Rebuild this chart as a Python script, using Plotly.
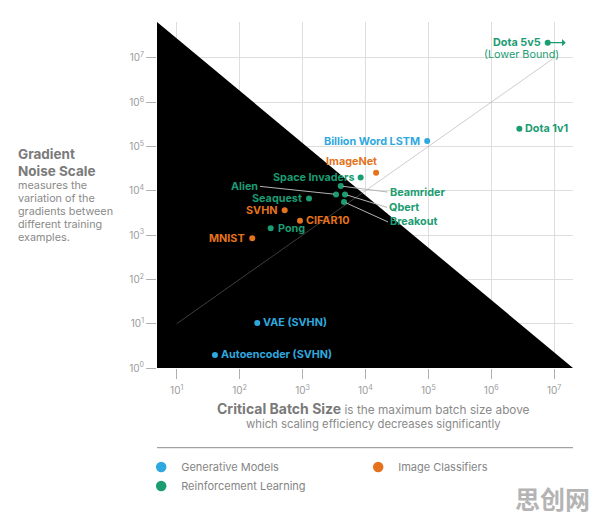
import math
import plotly.graph_objects as go

# ---------------- data ----------------
names = ["Dota 5v5", "Dota 1v1", "Billion Word LSTM", "ImageNet", "Space Invaders",
         "Beamrider", "Alien", "Qbert", "Breakout", "Seaquest", "SVHN", "CIFAR10",
         "Pong", "MNIST", "VAE (SVHN)", "Autoencoder (SVHN)"]
batch_size = [7.9e6, 2.8e6, 9.6e4, 1.48e4, 8.4e3,
              4.05e3, 3.41e3, 4.74e3, 4.57e3, 1.27e3, 521, 912,
              312, 159, 191, 40.6]
noise_scale = [2.2e7, 2.5e5, 1.33e5, 2.57e4, 1.99e4,
               1.28e4, 8.3e3, 8.3e3, 5.6e3, 6.7e3, 3.63e3, 2.12e3,
               1.43e3, 847, 10.4, 1.97]
category = ["Reinforcement Learning", "Reinforcement Learning", "Generative Models",
            "Image Classifiers", "Reinforcement Learning", "Reinforcement Learning",
            "Reinforcement Learning", "Reinforcement Learning", "Reinforcement Learning",
            "Reinforcement Learning", "Image Classifiers", "Image Classifiers",
            "Reinforcement Learning", "Image Classifiers", "Generative Models",
            "Generative Models"]
categories = ["Generative Models", "Image Classifiers", "Reinforcement Learning"]
ref_line = [1e1, 1e7]          # y = x reference line
x_ticks = [1e1, 1e2, 1e3, 1e4, 1e5, 1e6, 1e7]
x_ticktext = ["10<sup>%d</sup>" % i for i in range(1, 8)]
y_ticks = [1e0, 1e1, 1e2, 1e3, 1e4, 1e5, 1e6, 1e7]
y_ticktext = ["10<sup>%d</sup>" % i for i in range(0, 8)]
desc_lines = ["measures the", "variation of the", "gradients between",
              "different training", "examples."]

# axis ranges (log10 units)
X_RANGE = [0.687, 7.30]
Y_RANGE = [0.0, 7.81]

# ---------------- styles ----------------
colors = {"Generative Models": "#2fa8df",
          "Image Classifiers": "#e5731d",
          "Reinforcement Learning": "#1b9c72"}
FONT = "Inter, Roboto, sans-serif"
LBL = 10.8

place = {
    "Dota 5v5": ("right", -5, 0),
    "Dota 1v1": ("left", 4, 0),
    "Billion Word LSTM": ("right", -5, 0),
    "ImageNet": ("center", -25, 11),
    "Space Invaders": ("right", -5, 0),
    "Seaquest": ("right", -5, 0),
    "SVHN": ("right", -6, 0),
    "CIFAR10": ("left", 4, 0),
    "Pong": ("left", 5, 0),
    "MNIST": ("right", -5, 0),
    "VAE (SVHN)": ("left", 4, 0),
    "Autoencoder (SVHN)": ("left", 4, 0),
}
leaders = {
    "Alien": ("right", -76, -8),
    "Beamrider": ("left", 47, 6),
    "Qbert": ("left", 42, 13),
    "Breakout": ("left", 44, 20),
}

fig = go.Figure()

x_lo, x_hi = 10 ** X_RANGE[0], 10 ** X_RANGE[1]
y_lo, y_hi = 10 ** Y_RANGE[0], 10 ** Y_RANGE[1]
fig.add_trace(go.Scatter(x=[x_lo, x_lo, x_hi, x_lo], y=[y_lo, y_hi, y_lo, y_lo],
                         mode="lines", fill="toself", fillcolor="black",
                         line=dict(width=0, color="black"),
                         hoverinfo="skip", showlegend=False))

fig.add_trace(go.Scatter(x=ref_line, y=ref_line, mode="lines",
                         line=dict(color="rgba(140,140,140,0.55)", width=0.8),
                         hoverinfo="skip", showlegend=False))

for cat in categories:
    idx = [i for i, c in enumerate(category) if c == cat]
    fig.add_trace(go.Scatter(
        x=[batch_size[i] for i in idx], y=[noise_scale[i] for i in idx],
        mode="markers", marker=dict(color=colors[cat], size=6),
        text=[names[i] for i in idx], showlegend=False, name=cat))
for cat in categories:
    fig.add_trace(go.Scatter(x=[None], y=[None], mode="markers", name=cat,
                             marker=dict(color=colors[cat], size=10.5)))

annotations = []
for i, n in enumerate(names):
    col = colors[category[i]]
    lx, ly = math.log10(batch_size[i]), math.log10(noise_scale[i])
    if n in place:
        xa, xs, ys = place[n]
        annotations.append(dict(x=lx, y=ly, xref="x", yref="y", text="<b>%s</b>" % n,
                                showarrow=False, xanchor=xa, yanchor="middle",
                                xshift=xs, yshift=ys,
                                font=dict(family=FONT, size=LBL, color=col)))
    elif n in leaders:
        xa, ax, ay = leaders[n]
        annotations.append(dict(x=lx, y=ly, xref="x", yref="y", text="<b>%s</b>" % n,
                                showarrow=True, arrowhead=0, arrowwidth=1,
                                arrowcolor="#b5b5b5", ax=ax, ay=ay, xanchor=xa,
                                yanchor="middle", standoff=2,
                                font=dict(family=FONT, size=LBL, color=col)))
    if n == "Dota 5v5":
        annotations.append(dict(x=lx, y=ly, xref="x", yref="y", text="(Lower Bound)",
                                showarrow=False, xanchor="center", yanchor="middle",
                                xshift=-26, yshift=-11.5,
                                font=dict(family=FONT, size=10.8, color=col)))
        annotations.append(dict(x=lx, y=ly, xref="x", yref="y", text=" ",
                                showarrow=True, arrowside="start", arrowhead=2,
                                arrowsize=0.8, arrowwidth=1.2, arrowcolor=col,
                                ax=20, ay=0, standoff=0, startstandoff=0,
                                font=dict(size=2)))

PLOT_TOP, PLOT_H = 22, 346
def py(pix):
    return 1 - (pix - PLOT_TOP) / PLOT_H

annotations.append(dict(xref="paper", yref="paper", x=-0.339, y=py(154), yanchor="middle",
                        xanchor="left", showarrow=False, text="<b>Gradient</b>",
                        font=dict(family=FONT, size=13.5, color="#7a7a7a")))
annotations.append(dict(xref="paper", yref="paper", x=-0.339, y=py(170.7), yanchor="middle",
                        xanchor="left", showarrow=False, text="<b>Noise Scale</b>",
                        font=dict(family=FONT, size=13.5, color="#7a7a7a")))
for k, line in enumerate(desc_lines):
    annotations.append(dict(xref="paper", yref="paper", x=-0.339, y=py(185 + 13.1 * k),
                            yanchor="middle", xanchor="left", showarrow=False, text=line,
                            font=dict(family=FONT, size=10.8, color="#8a8a8a")))

annotations.append(dict(xref="paper", yref="paper", x=0.52, y=py(408.5), yanchor="middle",
                        xanchor="center", showarrow=False,
                        text="<span style='font-size:14px;color:#7a7a7a'><b>Critical Batch Size</b></span>"
                             " is the maximum batch size above",
                        font=dict(family=FONT, size=11.8, color="#8a8a8a")))
annotations.append(dict(xref="paper", yref="paper", x=0.52, y=py(423.5), yanchor="middle",
                        xanchor="center", showarrow=False,
                        text="which scaling efficiency decreases significantly",
                        font=dict(family=FONT, size=11.3, color="#8a8a8a")))
annotations.append(dict(xref="paper", yref="paper", x=1.045, y=py(498),
                        xanchor="right", yanchor="middle", showarrow=False,
                        text="<b>思创网</b>",
                        font=dict(family="Noto Sans CJK SC", size=25, color="#b4b4b4")))

shapes = [
    dict(type="line", xref="paper", yref="paper", x0=0, x1=1, y0=py(447.7), y1=py(447.7),
         line=dict(color="#8c8c8c", width=1)),
]

axis_common = dict(type="log", showgrid=True, gridcolor="#dedede", gridwidth=1,
                   ticks="outside", ticklen=10, tickcolor="#b0b0b0", tickwidth=1,
                   showline=False, zeroline=False,
                   tickfont=dict(family=FONT, size=10, color="#9a9a9a"))

fig.update_layout(
    width=596, height=516,
    margin=dict(l=157, r=23, t=22, b=148),
    paper_bgcolor="white", plot_bgcolor="white",
    xaxis=dict(range=X_RANGE, tickvals=x_ticks, ticktext=x_ticktext,
               ticklabelstandoff=3, **axis_common),
    yaxis=dict(range=Y_RANGE, tickvals=y_ticks, ticktext=y_ticktext, **axis_common),
    annotations=annotations, shapes=shapes,
    showlegend=True,
    legend=dict(orientation="h", x=-0.038, xanchor="left", y=-0.244, yanchor="top",
                entrywidth=172, entrywidthmode="pixels",
                font=dict(family=FONT, size=11, color="#858585"),
                bgcolor="rgba(0,0,0,0)"),
    font=dict(family=FONT),
)

fig.write_html("out.html")
